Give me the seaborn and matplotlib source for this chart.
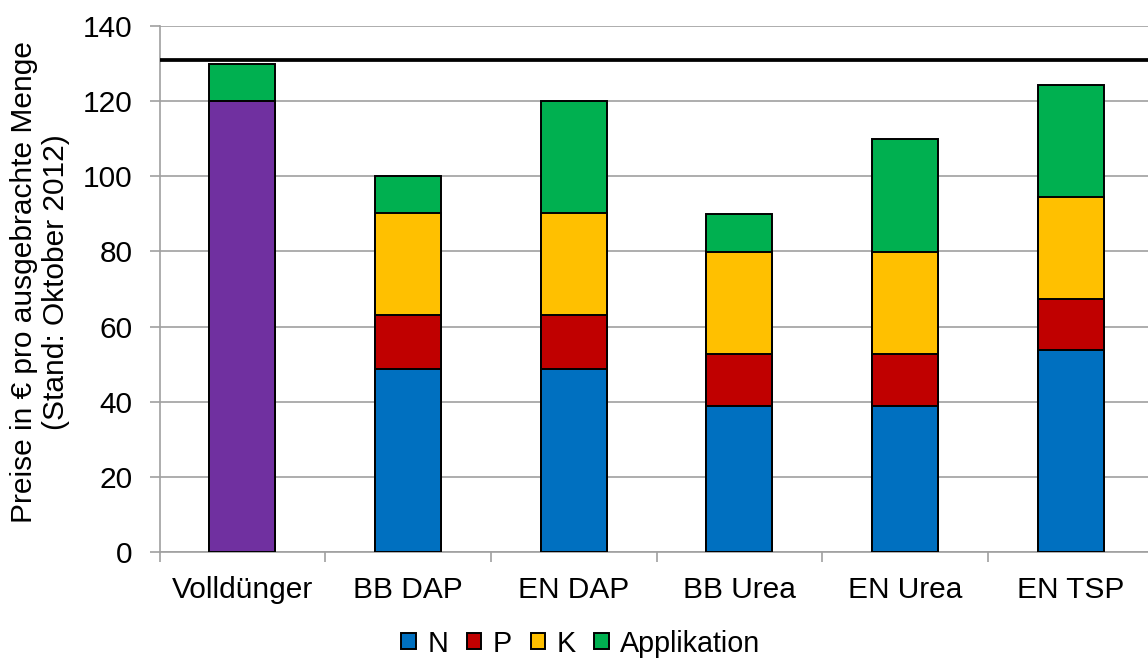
import numpy as np
import pandas as pd
import matplotlib
matplotlib.use("Agg")
import matplotlib.pyplot as plt
from matplotlib.patches import Patch
import seaborn as sns

# Fertilizer cost breakdown per applied amount (EUR, October 2012)
categories = ["Volldünger", "BB DAP", "EN DAP", "BB Urea", "EN Urea", "EN TSP"]
n_cost = [0.0, 48.8, 48.8, 38.8, 38.8, 53.8]
p_cost = [0.0, 14.2, 14.2, 14.0, 14.0, 13.5]
k_cost = [0.0, 27.1, 27.1, 27.1, 27.1, 27.1]
complete_cost = [120.0, 0.0, 0.0, 0.0, 0.0, 0.0]
application_cost = [10.0, 10.0, 30.0, 10.0, 30.0, 30.0]
reference_price = 131.0

series_names = ["N", "P", "K", "Volldünger", "Applikation"]
series_values = [n_cost, p_cost, k_cost, complete_cost, application_cost]
series_colors = ["#0070C0", "#C00000", "#FFC000", "#7030A0", "#00B050"]

sns.set_theme(style="white")
plt.rcParams["font.family"] = ["Liberation Sans", "DejaVu Sans"]
plt.rcParams["text.color"] = "black"
plt.rcParams["xtick.color"] = "black"
plt.rcParams["ytick.color"] = "black"
FS = 21.5

fig = plt.figure(figsize=(11.48, 6.6), dpi=100)
ax = fig.add_axes([159.5 / 1148, 108 / 660, 994 / 1148, 526 / 660])

# Stacked bars: draw cumulative tops from the highest layer downwards
values = np.array(series_values)
tops = np.cumsum(values, axis=0)
for i in reversed(range(len(series_names))):
    layer = pd.DataFrame({
        "Kategorie": categories,
        "Wert": np.where(values[i] > 0, tops[i], np.nan),
    })
    sns.barplot(data=layer, x="Kategorie", y="Wert", order=categories,
                color=series_colors[i], saturation=1, width=0.4,
                edgecolor="black", linewidth=1.4, errorbar=None, ax=ax, zorder=3)

ax.axhline(reference_price, color="black", linewidth=2.7, zorder=4)

ax.set_ylim(0, 140)
ax.set_xlim(-0.5, len(categories) - 0.5)
ax.set_yticks(np.arange(0, 141, 20))
ax.yaxis.grid(True, color="#A0A0A0", linewidth=1.2, zorder=0)
ax.set_axisbelow(True)

for side in ["top", "right"]:
    ax.spines[side].set_visible(False)
for side in ["left", "bottom"]:
    ax.spines[side].set_color("#A0A0A0")
    ax.spines[side].set_linewidth(1.2)

ax.set_xlabel("")
ax.set_ylabel("")
ax.tick_params(axis="y", which="major", direction="out", length=7.2, width=1.2,
               color="#A0A0A0", labelcolor="black", labelsize=FS, pad=12, left=True)
ax.tick_params(axis="x", which="major", length=0, labelcolor="black",
               labelsize=FS, pad=17)
ax.set_xticks(np.arange(-0.5, len(categories), 1.0), minor=True)
ax.tick_params(axis="x", which="minor", direction="out", length=7.2, width=1.2,
               color="#A0A0A0", bottom=True)

fig.text(40 / 1148, 0.572, "Preise in € pro ausgebrachte Menge\n(Stand: Oktober 2012)",
         rotation=90, ha="center", va="center", multialignment="center",
         fontsize=FS, color="black", linespacing=1.2)

legend_order = [0, 1, 2, 4]
handles = [Patch(facecolor=series_colors[i], edgecolor="black", linewidth=1.4)
           for i in legend_order]
labels = [series_names[i] for i in legend_order]
fig.legend(handles, labels, loc="center", bbox_to_anchor=(0.506, 0.025), ncol=4,
           frameon=False, fontsize=20.7, handlelength=0.5, handleheight=0.5,
           handletextpad=0.4, columnspacing=0.65, borderaxespad=0)

fig.savefig("out.png", dpi=100)
